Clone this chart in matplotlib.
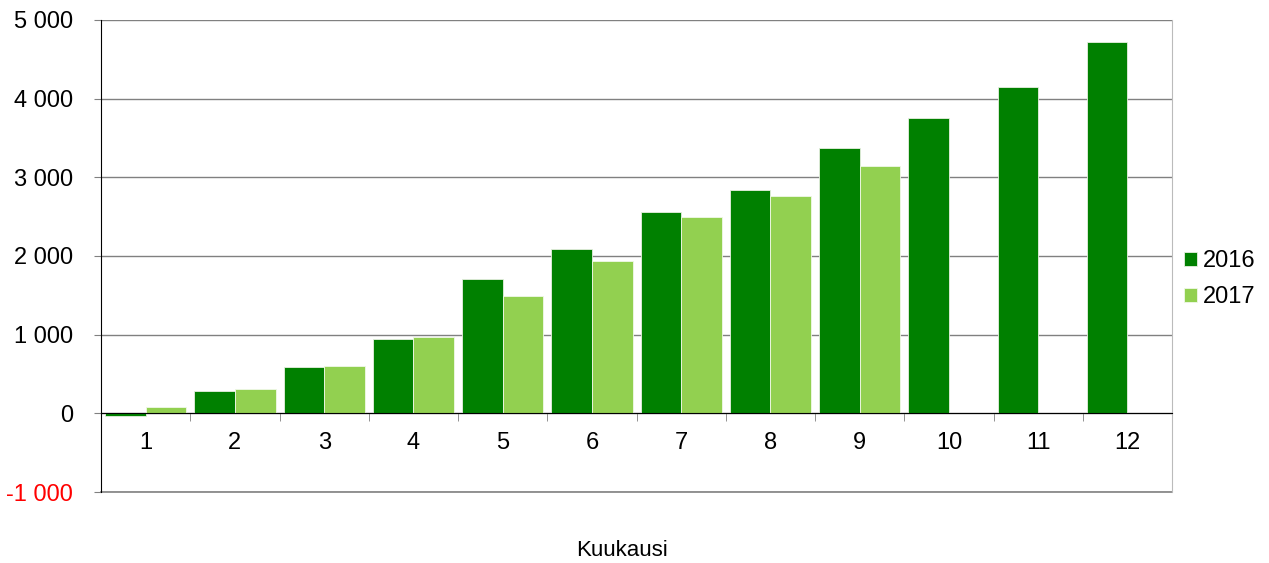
import numpy as np
import matplotlib.pyplot as plt
from matplotlib.ticker import FuncFormatter

# kumulatiivinen kertymä kuukausittain
months = [str(m) for m in range(1, 13)]
vals_2016 = [-30, 290, 585, 940, 1710, 2095, 2560, 2845, 3370, 3760, 4145, 4720]
vals_2017 = [80, 315, 600, 965, 1487, 1935, 2500, 2760, 3150]

col_2016 = '#008000'
col_2017 = '#92D050'

plt.rcParams['font.family'] = ['Liberation Sans', 'DejaVu Sans']


def fmt(v, pos):
    return '{:,.0f}'.format(v).replace(',', ' ')


if __name__ == "__main__":
    fig = plt.figure(figsize=(12.69, 5.63), dpi=100)
    ax = fig.add_axes([0.0796, 0.1261, 0.844, 0.8384])

    x = np.arange(len(months))
    w = 0.455
    ax.bar(x[:len(vals_2016)] - w/2, vals_2016, w, color=col_2016,
           edgecolor='#e8f0e0', linewidth=0.6, label='2016', zorder=3)
    ax.bar(x[:len(vals_2017)] + w/2, vals_2017, w, color=col_2017,
           edgecolor='#f0f8e8', linewidth=0.6, label='2017', zorder=3)

    ax.set_xlim(-0.5, len(months) - 0.5)
    ax.set_ylim(-1000, 5000)
    ax.set_yticks(range(-1000, 5001, 1000))
    ax.yaxis.set_major_formatter(FuncFormatter(fmt))
    ax.grid(axis='y', color='#808080', linewidth=1, zorder=0)
    # bottom border line at -1000
    ax.axhline(-1000, color='#808080', linewidth=1.2, clip_on=False, zorder=2)

    ax.set_xticks(x)
    ax.set_xticklabels(months)
    ax.set_xticks(np.arange(-0.5, len(months)), minor=True)
    ax.tick_params(axis='x', which='major', length=0, pad=13.5, labelsize=17)
    ax.tick_params(axis='x', which='minor', length=6, color='#808080', direction='out')
    ax.tick_params(axis='y', length=5, color='#808080', pad=15, labelsize=17)
    ax.get_yticklabels()[0].set_color('red')

    ax.spines['bottom'].set_position(('data', 0))
    ax.spines['bottom'].set_color('black')
    ax.spines['bottom'].set_zorder(4)
    ax.spines['left'].set_color('black')
    ax.spines['top'].set_visible(False)
    ax.spines['right'].set_color('#bbbbbb')

    ax.legend(loc='center left', bbox_to_anchor=(1.0, 0.451), frameon=False,
              fontsize=17, handlelength=0.55, handleheight=0.55, handletextpad=0.25,
              labelspacing=0.6, borderaxespad=0.1, borderpad=0.4)

    fig.text(0.49, 0.023, 'Kuukausi', ha='center', va='center', fontsize=16)

    plt.savefig('out.png', dpi=100)
